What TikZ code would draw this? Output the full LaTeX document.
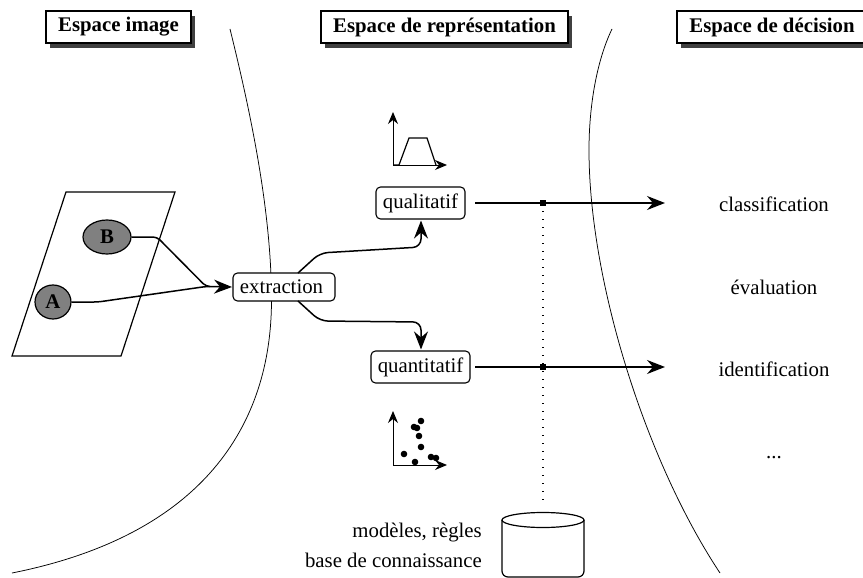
\documentclass[tikz,border=0pt]{standalone}
\usepackage{fontspec}
\setmainfont{Liberation Serif}
\usetikzlibrary{arrows.meta,shapes.geometric,calc}
\tikzset{
  x=1pt,y=-1pt,
  headbox/.style={draw=black,fill=white,line width=1.1pt,font=\fontsize{20.8}{22}\selectfont\bfseries,inner sep=0pt,minimum height=32pt,anchor=center},
  roundbox/.style={draw=black,fill=white,rounded corners=4.5pt,line width=1.1pt,font=\fontsize{20.8}{22}\selectfont,inner sep=0pt,anchor=center},
  plain/.style={font=\fontsize{20.8}{22}\selectfont,inner sep=0pt},
  blob/.style={ellipse,draw=black,fill=black!50,line width=1.2pt,font=\fontsize{20.8}{22}\selectfont\bfseries,inner sep=0pt},
  border/.style={line width=0.75pt,black},
  link/.style={line width=1.5pt,-{Stealth[length=18pt,width=14pt,inset=6pt]}},
  axis/.style={line width=1pt,-{Stealth[length=12pt,width=10pt,inset=4pt]}},
  dot/.style={circle,fill=black,inner sep=0pt,minimum size=6.6pt},
}
\begin{document}
\begin{tikzpicture}
\useasboundingbox (0,0) rectangle (863,578);
\clip (0,0) rectangle (863,578);
% borders
\draw[border] (230,29) .. controls (250,110) and (271.5,210) .. (271.5,300) .. controls (271.5,425) and (203,535) .. (12,573);
\draw[border] (612,29) .. controls (597,60) and (589,105) .. (589,150) .. controls (589,280) and (645,460) .. (720,573);
% headers
\fill[black!75] (50,16) rectangle (195,48);
\fill[black!75] (325,16) rectangle (572,48);
\fill[black!75] (681,16) rectangle (870,48);
\node[headbox,minimum width=145pt] (h1) at (118.5,27) {Espace image};
\node[headbox,minimum width=247pt] (h2) at (444.5,27) {Espace de représentation};
\node[headbox,minimum width=190pt] (h3) at (772,27) {Espace de décision};
% image plane
\draw[line width=1.2pt] (66,192) -- (175,192) -- (121,356) -- (12,356) -- cycle;
\node[blob,minimum width=48pt,minimum height=34pt] (B) at (107,237) {B};
\node[blob,minimum width=36pt,minimum height=34pt] (A) at (53,302) {A};
% boxes
\node[roundbox,minimum width=102pt,minimum height=28pt] (ex) at (284,287) {\hspace*{-5pt}extraction};
\node[roundbox,minimum width=89pt,minimum height=32pt] (ql) at (420.5,203) {qualitatif};
\node[roundbox,minimum width=99pt,minimum height=32pt] (qt) at (420.5,367) {quantitatif};
% targets
\node[plain,anchor=base] (cl) at (774,211.5) {classification};
\node[plain,anchor=base] (ev) at (774,294) {évaluation};
\node[plain,anchor=base] (id) at (774,376) {identification};
\node[plain,anchor=base] (dd) at (774,458) {...};
\coordinate (clin) at (665,203);
\coordinate (idin) at (665,367);
\coordinate (qlout) at (475,203);
\coordinate (qtout) at (475,367);
\coordinate (j1) at (543,203);
\coordinate (j2) at (543,367);
\coordinate (dbtop) at (543,505);
\coordinate (bk) at (157,237);
\coordinate (ak) at (98,302);
\coordinate (m) at (206,286.5);
\coordinate (exw) at (232,287);
\coordinate (u0) at (298,273);
\coordinate (u1) at (320,253);
\coordinate (u2) at (421,247);
\coordinate (d0) at (298,301);
\coordinate (d1) at (320,321);
\coordinate (d2) at (421,322);
% connectors
\draw[line width=1.5pt,rounded corners=4pt] (B.east) -- (bk) -- (m) -- ($(m)+(4,0)$);
\draw[link,rounded corners=4pt] (A.east) -- (ak) -- (m) -- (exw);
\draw[link,rounded corners=8pt] (u0) -- (u1) -- (u2) -- ($(ql.south)+(0.5,1)$);
\draw[link,rounded corners=8pt] (d0) -- (d1) -- (d2) -- ($(qt.north)+(0.5,-1)$);
\draw[link] (qlout) -- (clin);
\draw[link] (qtout) -- (idin);
\draw[line width=1.3pt,dash pattern=on 1.3pt off 6.7pt] (j1) -- (dbtop);
\fill (540,200) rectangle (546,206);
\fill (540,364) rectangle (546,370);
% qualitative icon
\coordinate (o1) at (393,165);
\draw[axis] (o1) -- (393,112);
\draw[axis] (o1) -- (447,165);
\draw[line width=1.2pt] (o1) -- (399,165) -- (409,138) -- (427,138) -- (436,165);
% quantitative icon
\coordinate (o2) at (393,465);
\draw[axis] (o2) -- (393,411);
\draw[axis] (o2) -- (447,465);
\foreach \p/\q in {421/421,414/427,417/428,419/436,421/447,404/454,415/462,431/457,436/458}
  \node[dot] at (\p,\q) {};
% database
\draw[line width=1.2pt,fill=white,rounded corners=6pt] (502,520) -- (502,577) -- (584,577) -- (584,520);
\draw[line width=1.2pt,fill=white] (543,520) ellipse [x radius=41,y radius=7.5];
\node[plain,anchor=base east] (t1) at (482,537) {modèles, règles};
\node[plain,anchor=base east] (t2) at (482,567) {base de connaissance};
\end{tikzpicture}
\end{document}
